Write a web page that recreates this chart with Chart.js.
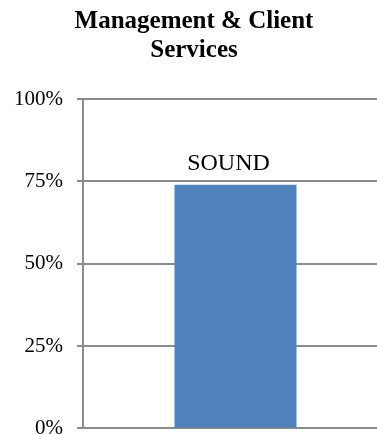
<!DOCTYPE html>
<html>
<head>
<meta charset="utf-8">
<script src="https://cdn.jsdelivr.net/npm/chart.js@4.4.1/dist/chart.umd.min.js"></script>
<style>
  html, body { margin: 0; padding: 0; background: #fff; overflow: hidden; }
  #wrap { width: 408px; height: 455px; }
</style>
</head>
<body>
<div id="wrap"><canvas id="mgmt__graph"></canvas></div>
<script>
// Management & Client Services bar

const titleLines = ['Management & Client', 'Services'];
const categories = ['Management & Client Services'];
const scores = [0.74];
const ratings = ['SOUND'];
const yTicks = [0, 0.25, 0.5, 0.75, 1];

const gridGray = '#8c8c8c';

// writes the rating above each bar
const ratingLabels = {
  id: 'ratingLabels',
  afterDatasetsDraw(chart) {
    const ctx = chart.ctx;
    const meta = chart.getDatasetMeta(0);
    ctx.save();
    ctx.font = '24px "Liberation Serif", serif';
    ctx.fillStyle = '#000';
    ctx.textAlign = 'center';
    ctx.textBaseline = 'alphabetic';
    meta.data.forEach((bar, i) => {
      ctx.fillText(ratings[i], bar.x - 7, bar.y - 15);
    });
    ctx.restore();
  }
};

const data1 = {
  labels: categories,
  datasets: [{
    label: '',
    backgroundColor: '#4f81bd',
    data: scores,
    barPercentage: 0.4,
    categoryPercentage: 1
  }]
};

const config1 = {
  type: 'bar',
  data: data1,
  options: {
    responsive: true,
    maintainAspectRatio: false,
    animation: false,
    layout: { padding: { left: 0, right: 20, top: 0, bottom: 0 } },
    plugins: {
      legend: { display: false },
      tooltip: { enabled: false },
      title: {
        display: true,
        text: titleLines,
        color: '#000',
        font: { family: '"Liberation Serif", serif', size: 25, weight: 'bold', lineHeight: 1.16 },
        padding: { top: 7, bottom: 34 }
      }
    },
    scales: {
      x: {
        display: false
      },
      y: {
        min: 0,
        max: 1,
        afterBuildTicks(scale) {
          scale.ticks = yTicks.map(v => ({ value: v }));
        },
        afterFit(scale) { scale.width = 83; },
        border: { display: true, color: gridGray, width: 2 },
        grid: {
          color: gridGray,
          lineWidth: 2,
          tickLength: 6,
          drawTicks: true
        },
        ticks: {
          color: '#000',
          padding: 14,
          font: { family: '"Liberation Serif", serif', size: 21 },
          callback: v => Math.round(v * 100) + '%'
        }
      }
    }
  },
  plugins: [ratingLabels]
};

const myChar1 = new Chart(document.getElementById('mgmt__graph'), config1);
</script>
</body>
</html>
